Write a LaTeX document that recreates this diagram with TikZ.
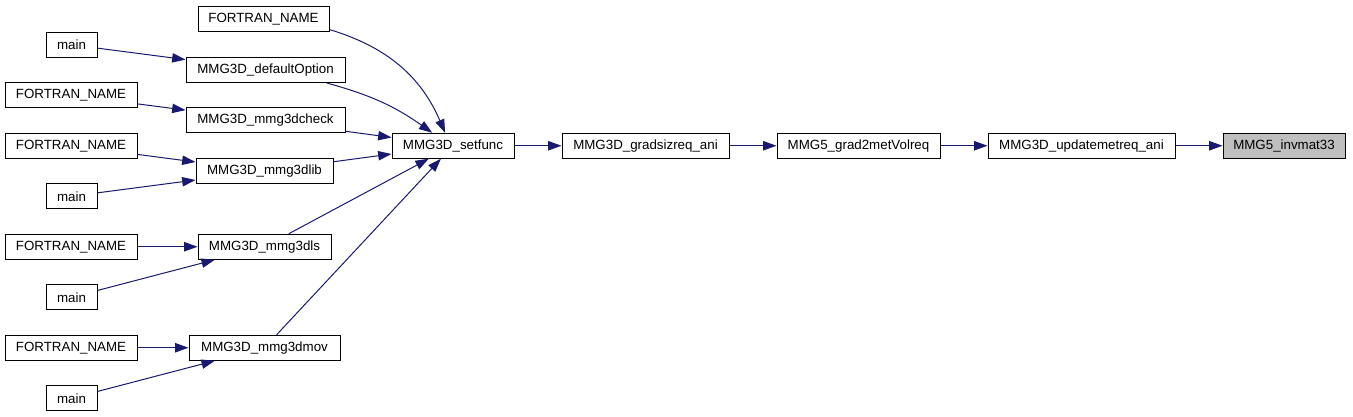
\documentclass[tikz,border=0pt]{standalone}
\usepackage{fontspec}
\setmainfont{Liberation Sans}
\usetikzlibrary{positioning,arrows.meta}
\definecolor{edgeblue}{HTML}{191970}
\definecolor{hilite}{HTML}{BFBFBF}
\begin{document}
\begin{tikzpicture}[
    x=0.75pt,y=-0.75pt,
    fn/.style={draw,rectangle,line width=0.75pt,minimum height=18.75pt,inner sep=2pt,
      font=\fontsize{10}{12}\selectfont,minimum width=#1*0.75pt},
    arr/.style={-{Triangle[length=10pt,width=7pt]},line width=0.75pt,color=edgeblue},
    node distance=35.25pt,
  ]
    \useasboundingbox (0,0) rectangle (1353,417);
    \node[fn=131] (FN0) at (263.5,19.5)  {FORTRAN\_NAME};
    \node[fn=51]  (MA1) at (71.5,44.75)  {main};
    \node[fn=159] (DO)  at (265.5,70)    {MMG3D\_defaultOption};
    \node[fn=132] (FN1) at (71,95.25)    {FORTRAN\_NAME};
    \node[fn=159] (CK)  at (265.5,120.5) {MMG3D\_mmg3dcheck};
    \node[fn=132] (FN2) at (71,145.75)   {FORTRAN\_NAME};
    \node[fn=137] (LB)  at (264.5,171)   {MMG3D\_mmg3dlib};
    \node[fn=51]  (MA2) at (71.5,196.25) {main};
    \node[fn=132] (FN3) at (71,246.75)   {FORTRAN\_NAME};
    \node[fn=133] (LS)  at (264.5,246.75){MMG3D\_mmg3dls};
    \node[fn=51]  (MA3) at (71.5,297.25) {main};
    \node[fn=132] (FN4) at (71,347.75)   {FORTRAN\_NAME};
    \node[fn=151] (MV)  at (264.5,347.75){MMG3D\_mmg3dmov};
    \node[fn=51]  (MA4) at (71.5,398.25) {main};
    \node[fn=122] (SF)  at (453,145.75)  {MMG3D\_setfunc};
    \node[fn=167,right=of SF] (GS) {MMG3D\_gradsizreq\_ani};
    \node[fn=163,right=of GS] (GM) {MMG5\_grad2metVolreq};
    \node[fn=187,right=of GM] (UM) {MMG3D\_updatemetreq\_ani};
    \node[fn=122,fill=hilite,right=of UM] (IM) {MMG5\_invmat33};
    \draw[arr] (MA1)--(DO); \draw[arr] (FN1)--(CK);
    \draw[arr] (FN2)--(LB); \draw[arr] (MA2)--(LB);
    \draw[arr] (FN3)--(LS); \draw[arr] (MA3)--(LS);
    \draw[arr] (FN4)--(MV); \draw[arr] (MA4)--(MV);
    \draw[arr] (FN0) to[bend left=25] (SF);
    \draw[arr] (DO) to[bend left=10] (SF);
    \draw[arr] (CK)--(SF); \draw[arr] (LB)--(SF);
    \draw[arr] (LS)--(SF); \draw[arr] (MV)--(SF);
    \draw[arr] (SF)--(GS); \draw[arr] (GS)--(GM);
    \draw[arr] (GM)--(UM); \draw[arr] (UM)--(IM);
  \end{tikzpicture}
\end{document}
